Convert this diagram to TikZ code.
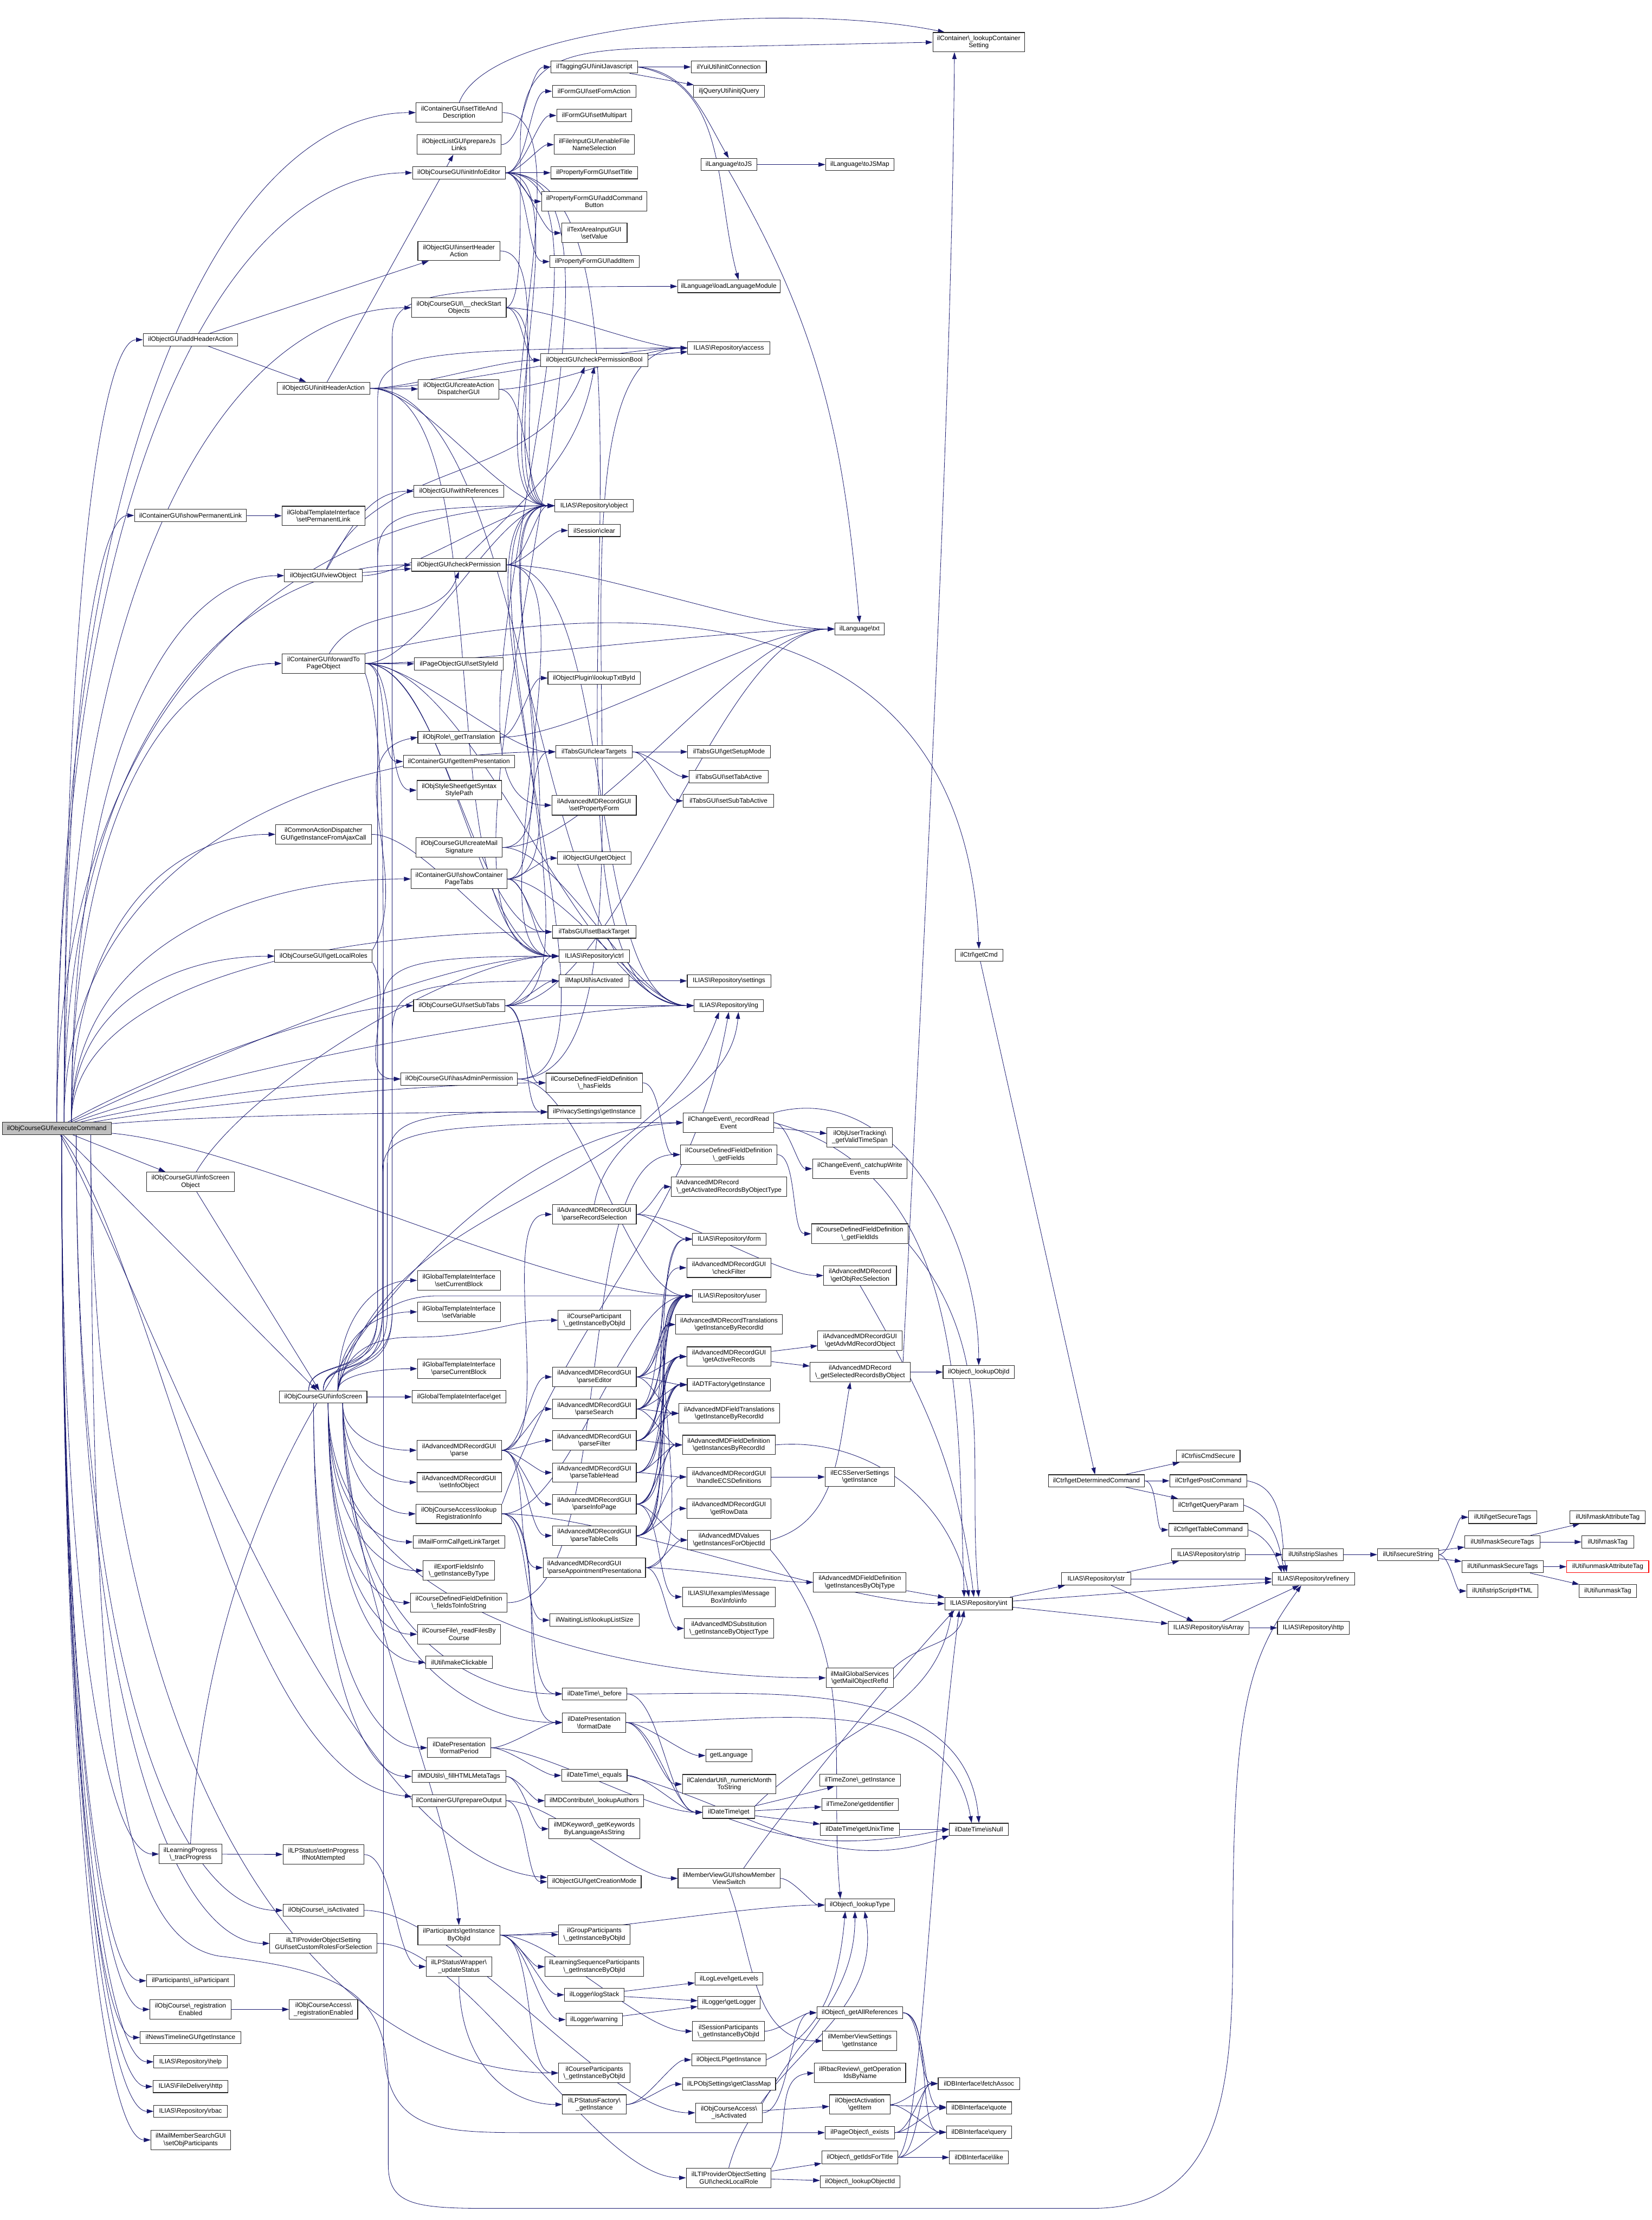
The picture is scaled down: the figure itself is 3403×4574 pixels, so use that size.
\documentclass[tikz,border=0pt]{standalone}
\usepackage{fontspec}
\setmainfont{Liberation Sans}
\usetikzlibrary{arrows.meta,calc}
\definecolor{edgec}{RGB}{25,25,112}
\newcommand\bsl{\textbackslash}
\pgfdeclarelayer{back}
\pgfdeclarelayer{edges}
\pgfsetlayers{back,edges,main}
\newcommand\ND[6]{\node[nd,minimum width=0.25pt*#4,minimum height=0.25pt*#5] (#1) at (#2,-#3) {#6};}
\newcommand\ESt[2]{\draw[e] (#1) -- (#2);}
\newcommand\ETo[3][]{\draw[e] (#2) to[out=0,in=180,looseness=0.6,#1] (#3);}
\newcommand\ECu[2]{\draw[e] (#1) .. controls ($(#1)!0.7!(#1|-#2.west)$) and ($(#2.west)!0.5!(#1|-#2.west)$) .. (#2.west);}
\newcommand\EVc[3]{\draw[e] (#1) .. controls ($(#1)+(0,70)$) and ($(#2|-#1)+(0,20)$) .. ($(#2|-#1)+(0,160)$) -- ($(#2|-#3.west)+(0,-110)$) .. controls ($(#2|-#3.west)+(0,-20)$) and ($(#2|-#3.west)+(40,0)$) .. (#3.west);}
\begin{document}
\begin{tikzpicture}[x=0.25pt,y=0.25pt,
 nd/.style={draw=black!85,fill=white,line width=0.3pt,inner sep=0pt,align=center,font=\fontsize{3.325}{3.75}\selectfont},
 e/.style={draw=edgec,line width=0.23pt,-{Triangle[length=3.5pt,width=2.25pt]}}]
\begin{pgfonlayer}{back}
\fill[white] (0,0) rectangle (3403,-4574);
\end{pgfonlayer}
\useasboundingbox (0,0) rectangle (3403,-4574);
% ---------- nodes ----------
\node[nd,fill=black!25,minimum width=56pt,minimum height=6.25pt] (ecmd) at (117,-2325) {ilObjCourseGUI\bsl executeCommand};
% column A
\ND{addHA}{392.5}{700}{195}{25}{ilObjectGUI\bsl addHeaderAction}
\ND{showPL}{392.5}{1062}{231}{25}{ilContainerGUI\bsl showPermanentLink}
\ND{infoSO}{392.5}{2435}{181}{40}{ilObjCourseGUI\bsl infoScreen\\Object}
\ND{tracP}{392.5}{3820}{129}{40}{ilLearningProgress\\\bsl\_tracProgress}
\ND{isPart}{392.5}{4081}{181}{25}{ilParticipants\bsl\_isParticipant}
\ND{regEn}{392.5}{4140}{167}{40}{ilObjCourse\bsl\_registration\\Enabled}
\ND{newsTL}{392.5}{4198}{207}{25}{ilNewsTimelineGUI\bsl getInstance}
\ND{help}{392.5}{4248}{151}{25}{ILIAS\bsl Repository\bsl help}
\ND{fdhttp}{392.5}{4299}{155}{25}{ILIAS\bsl FileDelivery\bsl http}
\ND{rbac}{392.5}{4350}{151}{25}{ILIAS\bsl Repository\bsl rbac}
\ND{mailMS}{393}{4409}{164}{40}{ilMailMemberSearchGUI\\\bsl setObjParticipants}
% column B
\ND{initHA}{666.5}{800}{191}{25}{ilObjectGUI\bsl initHeaderAction}
\ND{setPL}{666.5}{1063}{171}{40}{ilGlobalTemplateInterface\\\bsl setPermanentLink}
\ND{viewObj}{666}{1186}{160}{25}{ilObjectGUI\bsl viewObject}
\ND{fwdPO}{666.5}{1367}{171}{40}{ilContainerGUI\bsl forwardTo\\PageObject}
\ND{cadAjax}{666.5}{1719}{197}{40}{ilCommonActionDispatcher\\GUI\bsl getInstanceFromAjaxCall}
\ND{getLR}{666.5}{1970}{201}{25}{ilObjCourseGUI\bsl getLocalRoles}
\ND{infoS}{666}{2878}{180}{25}{ilObjCourseGUI\bsl infoScreen}
\ND{setIPNA}{666.5}{3821}{167}{40}{ilLPStatus\bsl setInProgress\\IfNotAttempted}
\ND{isActC}{666.5}{3936}{167}{25}{ilObjCourse\bsl\_isActivated}
\ND{setCR}{666.5}{4004}{221}{40}{ilLTIProviderObjectSetting\\GUI\bsl setCustomRolesForSelection}
\ND{regEnA}{666.5}{4140}{141}{40}{ilObjCourseAccess\bsl\\\_registrationEnabled}
% column C
\ND{setTD}{946}{232}{178}{40}{ilContainerGUI\bsl setTitleAnd\\Description}
\ND{prepJS}{945.5}{298}{173}{40}{ilObjectListGUI\bsl prepareJs\\Links}
\ND{initIE}{945.5}{356}{191}{26}{ilObjCourseGUI\bsl initInfoEditor}
\ND{insHA}{945.5}{517}{169}{40}{ilObjectGUI\bsl insertHeader\\Action}
\ND{chkSO}{945.5}{634}{195}{40}{ilObjCourseGUI\bsl\_\_checkStart\\Objects}
\ND{createAD}{945}{802}{166}{40}{ilObjectGUI\bsl createAction\\DispatcherGUI}
\ND{withRef}{945.5}{1012}{185}{25}{ilObjectGUI\bsl withReferences}
\ND{chkPerm}{945.5}{1164}{195}{26}{ilObjectGUI\bsl checkPermission}
\ND{setSI}{945.5}{1368}{183}{25}{ilPageObjectGUI\bsl setStyleId}
\ND{getTr}{945.5}{1519}{169}{25}{ilObjRole\bsl\_getTranslation}
\ND{getIP}{945.5}{1569}{229}{26}{ilContainerGUI\bsl getItemPresentation}
\ND{synSP}{946}{1628}{174}{40}{ilObjStyleSheet\bsl getSyntax\\StylePath}
\ND{mailSig}{946}{1746}{178}{40}{ilObjCourseGUI\bsl createMail\\Signature}
\ND{showCPT}{946}{1811}{198}{40}{ilContainerGUI\bsl showContainer\\PageTabs}
\ND{setST}{946}{2072}{188}{25}{ilObjCourseGUI\bsl setSubTabs}
\ND{hasAP}{946}{2223}{240}{26}{ilObjCourseGUI\bsl hasAdminPermission}
\ND{gtSCB}{945.5}{2638}{171}{40}{ilGlobalTemplateInterface\\\bsl setCurrentBlock}
\ND{gtSV}{945.5}{2703}{171}{40}{ilGlobalTemplateInterface\\\bsl setVariable}
\ND{gtPCB}{945.5}{2820}{171}{40}{ilGlobalTemplateInterface\\\bsl parseCurrentBlock}
\ND{gtGet}{945.5}{2878}{193}{26}{ilGlobalTemplateInterface\bsl get}
\ND{amdParse}{946}{2988}{174}{40}{ilAdvancedMDRecordGUI\\\bsl parse}
\ND{amdSIO}{946}{3054}{174}{40}{ilAdvancedMDRecordGUI\\\bsl setInfoObject}
\ND{lookupRI}{945.5}{3119}{177}{40}{ilObjCourseAccess\bsl lookup\\RegistrationInfo}
\ND{mailLT}{945.5}{3177}{189}{26}{ilMailFormCall\bsl getLinkTarget}
\ND{exportFI}{945.5}{3236}{147}{40}{ilExportFieldsInfo\\\bsl\_getInstanceByType}
\ND{cdfInfo}{945.5}{3302}{199}{40}{ilCourseDefinedFieldDefinition\\\bsl\_fieldsToInfoString}
\ND{cfRead}{945.5}{3367}{171}{40}{ilCourseFile\bsl\_readFilesBy\\Course}
\ND{mkClick}{946}{3425}{138}{26}{ilUtil\bsl makeClickable}
\ND{fmtPeriod}{946}{3601}{130}{40}{ilDatePresentation\\\bsl formatPeriod}
\ND{mdFill}{945.5}{3660}{193}{25}{ilMDUtils\bsl\_fillHTMLMetaTags}
\ND{prepOut}{945.5}{3710}{193}{25}{ilContainerGUI\bsl prepareOutput}
\ND{partGI}{945.5}{3987}{169}{40}{ilParticipants\bsl getInstance\\ByObjId}
\ND{lpsUpd}{945.5}{4052}{135}{40}{ilLPStatusWrapper\bsl\\\_updateStatus}
% column D
\ND{tagJS}{1224.5}{138}{179}{25}{ilTaggingGUI\bsl initJavascript}
\ND{setFA}{1224}{188}{172}{25}{ilFormGUI\bsl setFormAction}
\ND{setMP}{1224.5}{238}{155}{25}{ilFormGUI\bsl setMultipart}
\ND{fileNS}{1224.5}{298}{165}{40}{ilFileInputGUI\bsl enableFile\\NameSelection}
\ND{pfSetT}{1224.5}{356}{179}{25}{ilPropertyFormGUI\bsl setTitle}
\ND{pfACB}{1224.5}{415}{217}{40}{ilPropertyFormGUI\bsl addCommand\\Button}
\ND{taSV}{1224.5}{480}{135}{40}{ilTextAreaInputGUI\\\bsl setValue}
\ND{pfAI}{1225}{539}{184}{25}{ilPropertyFormGUI\bsl addItem}
\ND{chkPB}{1224.5}{742}{221}{26}{ilObjectGUI\bsl checkPermissionBool}
\ND{repObj}{1224}{1042}{162}{26}{ILIAS\bsl Repository\bsl object}
\ND{sessClr}{1224.5}{1093}{107}{25}{ilSession\bsl clear}
\ND{plugTxt}{1224}{1397}{190}{26}{ilObjectPlugin\bsl lookupTxtById}
\ND{tabsCT}{1224}{1549}{158}{25}{ilTabsGUI\bsl clearTargets}
\ND{amdSPF}{1224}{1659}{174}{41}{ilAdvancedMDRecordGUI\\\bsl setPropertyForm}
\ND{getObj}{1224.5}{1768}{151}{26}{ilObjectGUI\bsl getObject}
\ND{tabsSBT}{1224}{1920}{172}{26}{ilTabsGUI\bsl setBackTarget}
\ND{repCtrl}{1224.5}{1970}{145}{26}{ILIAS\bsl Repository\bsl ctrl}
\ND{mapAct}{1224}{2021}{144}{26}{ilMapUtil\bsl isActivated}
\ND{cdfHas}{1224.5}{2231}{199}{40}{ilCourseDefinedFieldDefinition\\\bsl\_hasFields}
\ND{privGI}{1224.5}{2291}{191}{26}{ilPrivacySettings\bsl getInstance}
\ND{amdPRS}{1224.5}{2502}{173}{40}{ilAdvancedMDRecordGUI\\\bsl parseRecordSelection}
\ND{cpGI}{1224.5}{2720}{149}{40}{ilCourseParticipant\\\bsl\_getInstanceByObjId}
\ND{amdPE}{1224.5}{2837}{173}{40}{ilAdvancedMDRecordGUI\\\bsl parseEditor}
\ND{amdPS}{1224.5}{2903}{173}{40}{ilAdvancedMDRecordGUI\\\bsl parseSearch}
\ND{amdPF}{1224.5}{2968}{173}{40}{ilAdvancedMDRecordGUI\\\bsl parseFilter}
\ND{amdPTH}{1224.5}{3034}{173}{40}{ilAdvancedMDRecordGUI\\\bsl parseTableHead}
\ND{amdPIP}{1224.5}{3099}{173}{40}{ilAdvancedMDRecordGUI\\\bsl parseInfoPage}
\ND{amdPTC}{1224.5}{3164}{173}{40}{ilAdvancedMDRecordGUI\\\bsl parseTableCells}
\node[nd,align=left,minimum width=52.75pt,minimum height=10pt] (amdPAP) at (1224.5,-3230) {ilAdvancedMDRecordGUI\\\bsl parseAppointmentPresentationa};
\ND{wlSize}{1225}{3338}{184}{26}{ilWaitingList\bsl lookupListSize}
\ND{dtBefore}{1225}{3490}{132}{25}{ilDateTime\bsl\_before}
\ND{fmtDate}{1224}{3549}{130}{40}{ilDatePresentation\\\bsl formatDate}
\ND{dtEq}{1224.5}{3658}{135}{25}{ilDateTime\bsl\_equals}
\ND{mdAuth}{1224.5}{3710}{203}{25}{ilMDContribute\bsl\_lookupAuthors}
\ND{mdKw}{1224.5}{3768}{187}{41}{ilMDKeyword\bsl\_getKeywords\\ByLanguageAsString}
\ND{getCM}{1224.5}{3877}{193}{25}{ilObjectGUI\bsl getCreationMode}
\ND{grpGI}{1224.5}{3986}{147}{40}{ilGroupParticipants\\\bsl\_getInstanceByObjId}
\ND{lsGI}{1224.5}{4052}{203}{40}{ilLearningSequenceParticipants\\\bsl\_getInstanceByObjId}
\ND{logStack}{1224.5}{4110}{123}{26}{ilLogger\bsl logStack}
\ND{logWarn}{1224}{4161}{116}{26}{ilLogger\bsl warning}
\ND{crsPGI}{1224.5}{4271}{147}{40}{ilCourseParticipants\\\bsl\_getInstanceByObjId}
\ND{lpsFact}{1224.5}{4336}{131}{40}{ilLPStatusFactory\bsl\\\_getInstance}
% column E
\ND{yui}{1501.5}{138}{155}{25}{ilYuiUtil\bsl initConnection}
\ND{jq}{1502}{188}{146}{25}{iljQueryUtil\bsl initjQuery}
\ND{toJS}{1501.5}{339}{115}{25}{ilLanguage\bsl toJS}
\ND{loadLM}{1501.5}{590}{211}{26}{ilLanguage\bsl loadLanguageModule}
\ND{repAcc}{1501.5}{717}{169}{26}{ILIAS\bsl Repository\bsl access}
\ND{tabsGSM}{1502}{1549}{170}{25}{ilTabsGUI\bsl getSetupMode}
\ND{tabsSTA}{1501.5}{1600}{163}{26}{ilTabsGUI\bsl setTabActive}
\ND{tabsSSTA}{1501}{1650}{186}{26}{ilTabsGUI\bsl setSubTabActive}
\ND{repSet}{1502}{2021}{172}{26}{ILIAS\bsl Repository\bsl settings}
\ND{repLng}{1501.5}{2072}{143}{25}{ILIAS\bsl Repository\bsl lng}
\ND{ceRRE}{1501}{2313}{186}{40}{ilChangeEvent\bsl\_recordRead\\Event}
\ND{cdfGF}{1501.5}{2379}{199}{40}{ilCourseDefinedFieldDefinition\\\bsl\_getFields}
\node[nd,align=left,minimum width=59.5pt,minimum height=10pt] (amdGAR) at (1502,-2445) {ilAdvancedMDRecord\\\bsl\_getActivatedRecordsByObjectType};
\ND{repForm}{1502.5}{2553}{151}{25}{ILIAS\bsl Repository\bsl form}
\ND{amdCF}{1502}{2612}{174}{40}{ilAdvancedMDRecordGUI\\\bsl checkFilter}
\ND{repUser}{1502.5}{2670}{151}{26}{ILIAS\bsl Repository\bsl user}
\ND{amdRT}{1502}{2729}{220}{40}{ilAdvancedMDRecordTranslations\\\bsl getInstanceByRecordId}
\ND{amdGActR}{1502}{2795}{174}{40}{ilAdvancedMDRecordGUI\\\bsl getActiveRecords}
\ND{adtF}{1501.5}{2853}{171}{25}{ilADTFactory\bsl getInstance}
\ND{amdFT}{1502.5}{2912}{207}{40}{ilAdvancedMDFieldTranslations\\\bsl getInstanceByRecordId}
\ND{amdFDR}{1501.5}{2977}{191}{40}{ilAdvancedMDFieldDefinition\\\bsl getInstancesByRecordId}
\ND{amdECS}{1502}{3043}{174}{40}{ilAdvancedMDRecordGUI\\\bsl handleECSDefinitions}
\ND{amdRow}{1502}{3108}{174}{40}{ilAdvancedMDRecordGUI\\\bsl getRowData}
\ND{amdVal}{1502}{3173}{170}{40}{ilAdvancedMDValues\\\bsl getInstancesForObjectId}
\ND{uiInfo}{1501.5}{3290}{191}{40}{ILIAS\bsl UI\bsl examples\bsl Message\\Box\bsl Info\bsl info}
\ND{amdSub}{1502}{3355}{184}{40}{ilAdvancedMDSubstitution\\\bsl\_getInstanceByObjectType}
\ND{getLang}{1501.5}{3617}{95}{25}{getLanguage}
\ND{calMon}{1502.5}{3676}{193}{40}{ilCalendarUtil\bsl\_numericMonth\\ToString}
\ND{dtGet}{1501.5}{3734}{107}{25}{ilDateTime\bsl get}
\ND{mvSwitch}{1502}{3870}{210}{40}{ilMemberViewGUI\bsl showMember\\ViewSwitch}
\ND{logLev}{1502}{4077}{140}{25}{ilLogLevel\bsl getLevels}
\ND{logGet}{1502}{4126}{128}{26}{ilLogger\bsl getLogger}
\ND{sessPGI}{1501}{4185}{148}{40}{ilSessionParticipants\\\bsl\_getInstanceByObjId}
\ND{olpGI}{1501.5}{4244}{153}{25}{ilObjectLP\bsl getInstance}
\ND{lpCM}{1502}{4294}{192}{26}{ilLPObjSettings\bsl getClassMap}
\ND{caIsAct}{1502}{4353}{138}{40}{ilObjCourseAccess\bsl\\\_isActivated}
\ND{ltiCLR}{1501.5}{4487}{175}{40}{ilLTIProviderObjectSetting\\GUI\bsl checkLocalRole}
% column F
\ND{toJSMap}{1771.5}{339}{141}{25}{ilLanguage\bsl toJSMap}
\ND{txt}{1771}{1296}{102}{25}{ilLanguage\bsl txt}
\ND{outTS}{1771.5}{2343}{135}{40}{ilObjUserTracking\bsl\\\_getValidTimeSpan}
\ND{ceCWE}{1771.5}{2408}{195}{40}{ilChangeEvent\bsl\_catchupWrite\\Events}
\ND{cdfGFI}{1771.5}{2542}{199}{41}{ilCourseDefinedFieldDefinition\\\bsl\_getFieldIds}
\ND{amdORS}{1772}{2628}{150}{40}{ilAdvancedMDRecord\\\bsl getObjRecSelection}
\ND{amdAMO}{1772}{2762}{174}{41}{ilAdvancedMDRecordGUI\\\bsl getAdvMdRecordObject}
\ND{amdSRO}{1772}{2827}{206}{40}{ilAdvancedMDRecord\\\bsl\_getSelectedRecordsByObject}
\ND{ecsGI}{1771.5}{3043}{143}{40}{ilECSServerSettings\\\bsl getInstance}
\ND{amdFDOT}{1771.5}{3260}{191}{40}{ilAdvancedMDFieldDefinition\\\bsl getInstancesByObjType}
\ND{mailRef}{1771.5}{3457}{139}{40}{ilMailGlobalServices\\\bsl getMailObjectRefId}
\ND{tzGI}{1772}{3668}{166}{25}{ilTimeZone\bsl\_getInstance}
\ND{tzId}{1772}{3718}{158}{25}{ilTimeZone\bsl getIdentifier}
\ND{dtUnix}{1771.5}{3769}{163}{25}{ilDateTime\bsl getUnixTime}
\ND{lookType}{1771.5}{3925}{143}{25}{ilObject\bsl\_lookupType}
\ND{getAllRef}{1771.5}{4147}{177}{25}{ilObject\bsl\_getAllReferences}
\ND{mvsGI}{1771.5}{4205}{153}{40}{ilMemberViewSettings\\\bsl getInstance}
\ND{rbacOp}{1772}{4271}{188}{40}{ilRbacReview\bsl\_getOperation\\IdsByName}
\ND{oaItem}{1771.5}{4336}{125}{40}{ilObjectActivation\\\bsl getItem}
\ND{poExists}{1771.5}{4394}{143}{25}{ilPageObject\bsl\_exists}
\ND{idsTitle}{1771.5}{4445}{157}{27}{ilObject\bsl\_getIdsForTitle}
\ND{lookObjIdB}{1772}{4495}{164}{25}{ilObject\bsl\_lookupObjectId}
% column G
\ND{lookCS}{2016.5}{87}{189}{40}{ilContainer\bsl\_lookupContainer\\Setting}
\ND{getCmd}{2017}{1968}{98}{25}{ilCtrl\bsl getCmd}
\ND{lookObjId}{2016.5}{2827}{147}{27}{ilObject\bsl\_lookupObjId}
\ND{repInt}{2016.5}{3304}{139}{26}{ILIAS\bsl Repository\bsl int}
\ND{dtNull}{2017}{3769}{122}{25}{ilDateTime\bsl isNull}
\ND{dbFetch}{2017}{4293}{168}{25}{ilDBInterface\bsl fetchAssoc}
\ND{dbQuote}{2017}{4343}{134}{25}{ilDBInterface\bsl quote}
\ND{dbQuery}{2017}{4393}{134}{26}{ilDBInterface\bsl query}
\ND{dbLike}{2017}{4445}{122}{27}{ilDBInterface\bsl like}
% columns H..M
\ND{getDC}{2259}{3051}{198}{25}{ilCtrl\bsl getDeterminedCommand}
\ND{repStr}{2258.5}{3253}{143}{26}{ILIAS\bsl Repository\bsl str}
\ND{isCmdSec}{2489.5}{3000}{131}{25}{ilCtrl\bsl isCmdSecure}
\ND{getPostCmd}{2489.5}{3051}{159}{25}{ilCtrl\bsl getPostCommand}
\ND{getQP}{2489.5}{3101}{145}{26}{ilCtrl\bsl getQueryParam}
\ND{getTC}{2489.5}{3152}{163}{26}{ilCtrl\bsl getTableCommand}
\ND{repStrip}{2490}{3203}{152}{25}{ILIAS\bsl Repository\bsl strip}
\ND{repIsArr}{2490}{3354}{166}{26}{ILIAS\bsl Repository\bsl isArray}
\ND{stripSl}{2705.5}{3203}{125}{25}{ilUtil\bsl stripSlashes}
\ND{refinery}{2706}{3253}{170}{26}{ILIAS\bsl Repository\bsl refinery}
\ND{repHttp}{2706}{3354}{148}{26}{ILIAS\bsl Repository\bsl http}
\ND{secStr}{2901}{3203}{126}{25}{ilUtil\bsl secureString}
\ND{getSecT}{3096}{3126}{140}{26}{ilUtil\bsl getSecureTags}
\ND{maskSecT}{3095.5}{3177}{155}{26}{ilUtil\bsl maskSecureTags}
\ND{unmaskSecT}{3096}{3228}{168}{25}{ilUtil\bsl unmaskSecureTags}
\ND{stripScr}{3095.5}{3278}{147}{26}{ilUtil\bsl stripScriptHTML}
\ND{maskAttr}{3312.5}{3126}{155}{26}{ilUtil\bsl maskAttributeTag}
\ND{maskTag}{3312.5}{3177}{107}{26}{ilUtil\bsl maskTag}
\node[nd,draw=red,minimum width=42.25pt,minimum height=6.25pt] (unmaskAttr) at (3312.5,-3228) {ilUtil\bsl unmaskAttributeTag};
\ND{unmaskTag}{3312.5}{3278}{119}{26}{ilUtil\bsl unmaskTag}
% helper coordinates
\coordinate (eN1) at ($(ecmd.north)+(0,0)$);
\coordinate (eN2) at ($(ecmd.north)+(15,0)$);
\coordinate (eN3) at ($(ecmd.north)+(30,0)$);
\coordinate (eS1) at ($(ecmd.south)+(10,0)$);
\coordinate (eS2) at ($(ecmd.south)+(40,0)$);
\coordinate (eS3) at ($(ecmd.south)+(70,0)$);
\coordinate (iN1) at ($(infoS.north)+(-30,0)$);
\coordinate (iN2) at ($(infoS.north)+(0,0)$);
\coordinate (iN3) at ($(infoS.north)+(30,0)$);
\coordinate (iS1) at ($(infoS.south)+(-20,0)$);
\coordinate (iS2) at ($(infoS.south)+(10,0)$);
\coordinate (iS3) at ($(infoS.south)+(40,0)$);
\coordinate (ch1) at (778,0);
\coordinate (ch2) at (788,0);
\coordinate (ch3) at (798,0);
\coordinate (ch4) at (808,0);
% ---------- edges ----------
\begin{pgfonlayer}{edges}
% executeCommand
\ECu{eN1}{setTD}
\ECu{eN1}{initIE}
\ECu{eN2}{addHA}
\ECu{eN2}{chkSO}
\ECu{eN2}{showPL}
\ECu{eN3}{viewObj}
\ECu{eN3}{fwdPO}
\ECu{eN3}{cadAjax}
\ECu{eN3}{getLR}
\ECu{eN3}{showCPT}
\ECu{eN2}{chkPerm}
\ECu{eN1}{repObj}
\ECu{eN2}{tabsCT}
\ECu{eN3}{tabsSBT}
\ETo[out=30]{ecmd}{setST}
\ETo[out=25]{ecmd}{repCtrl}
\ETo[out=20]{ecmd}{repLng}
\ETo[out=15]{ecmd}{hasAP}
\ETo[out=10]{ecmd}{cdfHas}
\ETo[out=5]{ecmd}{privGI}
\ESt{ecmd}{infoSO}
\ESt{ecmd}{infoS}
\ETo[out=-5]{ecmd}{repUser}
\ETo[out=-55,in=175]{ecmd}{prepOut}
\ETo[out=-62,in=175]{ecmd}{getCM}
\ECu{eS1}{tracP}
\ECu{eS1}{isPart}
\ECu{eS1}{regEn}
\ECu{eS1}{newsTL}
\ECu{eS1}{help}
\ECu{eS1}{fdhttp}
\ECu{eS1}{rbac}
\ECu{eS1}{mailMS}
\ECu{eS2}{isActC}
\ECu{eS2}{setCR}
\ECu{eS3}{crsPGI}
\draw[e] (eS3) .. controls (190,-3500) and (230,-3990) .. (450,-4030) .. controls (700,-4060) and (800,-4100) .. (800,-4300) -- (800,-4460) .. controls (800,-4540) and (850,-4550) .. (1000,-4550) -- (2250,-4550) .. controls (2520,-4550) and (2540,-4300) .. (2540,-4000) .. controls (2540,-3520) and (2570,-3420) .. ($(refinery.south)+(-25,0)$);
% header actions
\ESt{addHA}{insHA}
\ESt{addHA}{initHA}
\ESt{initHA}{createAD}
\ESt{initHA}{prepJS}
\ETo{initHA}{chkPB}
\ETo{initHA}{repAcc}
\ETo{initHA}{repObj}
\ETo{initHA}{repCtrl}
\ETo{initHA}{repLng}
\ESt{showPL}{setPL}
\ETo{prepJS}{tagJS}
\draw[e] (setTD.north) .. controls (1010,-40) and (1650,-5) .. ($(lookCS.north west)+(25,0)$);
\ETo{setTD}{repObj}
\draw[e] (chkSO.east) .. controls (1075,-620) and (1072,-500) .. (1072,-300) .. controls (1072,-120) and (1150,-100) .. (1400,-98) -- (lookCS.west);
% info editor
\ETo{initIE}{setFA}
\ETo{initIE}{setMP}
\ETo{initIE}{fileNS}
\ESt{initIE}{pfSetT}
\ETo{initIE}{pfACB}
\ETo{initIE}{taSV}
\ETo{initIE}{pfAI}
\ETo{initIE}{repObj}
\ETo{initIE}{repCtrl}
\ETo{initIE}{repLng}
\ETo{initIE}{amdSPF}
\ETo{insHA}{repObj}
\ETo{chkSO}{repAcc}
\ETo{chkSO}{chkPB}
\ETo{chkSO}{repObj}
\ETo{createAD}{repAcc}
\ETo{createAD}{repObj}
\ESt{chkPB}{repAcc}
\draw[e] (chkPerm) to[out=45,in=-100] (chkPB.south);
\ETo{chkPerm}{sessClr}
\ETo{chkPerm}{repObj}
\ETo{chkPerm}{repCtrl}
\ETo{chkPerm}{repLng}
\ETo{chkPerm}{txt}
\ESt{viewObj}{chkPerm}
\draw[e] (viewObj) to[out=60,in=180] (withRef);
\ETo{viewObj}{repObj}
\draw[e] (viewObj) to[out=65,in=-110] ($(chkPB.south)+(-20,0)$);
% forwardToPageObject
\ESt{fwdPO}{setSI}
\draw[e] (fwdPO) to[out=60,in=-110] (chkPerm.south);
\ETo{fwdPO}{getIP}
\ETo{fwdPO}{synSP}
\ETo{fwdPO}{txt}
\draw[e] (fwdPO.north east) .. controls (1450,-1190) and (1990,-1300) .. (getCmd.north);
\ETo{fwdPO}{repCtrl}
\ETo{fwdPO}{repObj}
\ETo{fwdPO}{repLng}
\ETo{fwdPO}{tabsCT}
\ETo{fwdPO}{tabsSBT}
\draw[e] (fwdPO.south east) .. controls (790,-1500) and (790,-1700) .. (790,-2200) -- (790,-4200) .. controls (790,-4394) and (900,-4394) .. (1100,-4394) -- (poExists.west);
\ETo{getTr}{plugTxt}
\ETo{getTr}{txt}
\draw[e] (getLR.north east) to[out=60,in=190] (getTr.west);
\draw[e] (getLR.south east) to[out=-60,in=180] (hasAP.west);
\ETo{cadAjax}{repCtrl}
\ETo{mailSig}{txt}
\ETo{mailSig}{repObj}
\ETo{mailSig}{repLng}
\ETo{showCPT}{tabsCT}
\ETo{showCPT}{tabsSBT}
\ETo{showCPT}{getObj}
\ETo{showCPT}{repCtrl}
\ETo{showCPT}{repLng}
\ETo{showCPT}{repObj}
\ESt{setST}{repLng}
\ETo{setST}{mapAct}
\ETo{setST}{cdfHas}
\ETo{setST}{privGI}
\ETo{setST}{repCtrl}
\ETo{setST}{txt}
\ETo{setST}{repObj}
\ETo{hasAP}{repAcc}
\ETo{hasAP}{repObj}
\ETo{hasAP}{repUser}
\ESt{mapAct}{repSet}
\ESt{tabsCT}{tabsGSM}
\ETo{tabsCT}{tabsSTA}
\ETo{tabsCT}{tabsSSTA}
% tagging / language
\ESt{tagJS}{yui}
\ESt{tagJS}{jq}
\draw[e] (tagJS.east) to[out=-5,in=120] (toJS.north);
\draw[e] (tagJS.east) to[out=-10,in=105] ($(loadLM.north)+(20,0)$);
\ESt{toJS}{toJSMap}
\draw[e] (toJS.south) to[out=-60,in=95] (txt.north);
% ctrl / util chain
\draw[e] (getCmd) -- (getDC);
\ESt{getDC}{isCmdSec}
\ESt{getDC}{getPostCmd}
\ESt{getDC}{getQP}
\ETo{getDC}{getTC}
\draw[e] (getPostCmd.east) to[out=-10,in=100] ($(refinery.north)+(-55,0)$);
\draw[e] (getQP.east) to[out=-20,in=100] ($(refinery.north)+(-60,0)$);
\draw[e] (getTC.east) to[out=-20,in=110] ($(refinery.north)+(-65,0)$);
\ESt{repStrip}{stripSl}
\ESt{stripSl}{secStr}
\ETo{secStr}{getSecT}
\ESt{secStr}{maskSecT}
\ESt{secStr}{unmaskSecT}
\ETo{secStr}{stripScr}
\ESt{maskSecT}{maskAttr}
\ESt{maskSecT}{maskTag}
\ESt{unmaskSecT}{unmaskAttr}
\ESt{unmaskSecT}{unmaskTag}
\ESt{repStr}{repStrip}
\ESt{repStr}{refinery}
\ESt{repStr}{repIsArr}
\ESt{repIsArr}{refinery}
\ESt{repIsArr}{repHttp}
\ESt{repInt}{repStr}
\ESt{repInt}{refinery}
\ESt{repInt}{repIsArr}
% infoScreen
\ESt{infoSO}{infoS}
\ETo[out=60]{infoSO}{repCtrl}
\ECu{iN3}{gtSCB}
\ECu{iN3}{gtSV}
\ECu{iN3}{gtPCB}
\ESt{infoS}{gtGet}
\ECu{iS3}{amdParse}
\ECu{iS3}{amdSIO}
\ECu{iS3}{lookupRI}
\ECu{iS2}{mailLT}
\ECu{iS2}{exportFI}
\ECu{iS2}{cdfInfo}
\ECu{iS2}{cfRead}
\ECu{iS2}{mkClick}
\ECu{iS1}{fmtPeriod}
\ECu{iS1}{mdFill}
\draw[e] (iS3) .. controls (720,-3300) and (930,-3700) .. (partGI.north);
\ECu{iS3}{dtBefore}
\ECu{iS3}{fmtDate}
\ECu{iS2}{mailRef}
\EVc{iN1}{ch1}{repObj}
\EVc{iN1}{ch2}{repCtrl}
\EVc{iN2}{ch1}{repAcc}
\EVc{iN2}{ch3}{privGI}
\EVc{iN3}{ch4}{mapAct}
\EVc{iN2}{ch4}{loadLM}
\EVc{iN3}{ch2}{ceRRE}
\draw[e] (iN3) to[out=75,in=-110] ($(repLng.south)+(-20,0)$);
\draw[e] (iN3) .. controls (710,-2760) and (780,-2670) .. (900,-2670) -- (repUser.west);
\draw[e] (iN3) .. controls (710,-2790) and (760,-2755) .. (850,-2755) .. controls (1000,-2755) and (1050,-2720) .. (cpGI.west);
% registration info
\ETo{lookupRI}{fmtDate}
\ETo{lookupRI}{dtBefore}
\ETo{lookupRI}{wlSize}
\ETo{lookupRI}{repUser}
\ETo{lookupRI}{repInt}
\draw[e] (lookupRI.north east) to[out=70,in=-100] (repLng.south);
% advanced metadata
\ETo{amdParse}{amdPRS}
\ETo{amdParse}{amdPE}
\ETo{amdParse}{amdPS}
\ETo{amdParse}{amdPF}
\ETo{amdParse}{amdPTH}
\ETo{amdParse}{amdPIP}
\ETo{amdParse}{amdPTC}
\ETo{amdParse}{amdPAP}
\ETo{amdPRS}{amdGAR}
\ETo{amdPRS}{repForm}
\ETo{amdPRS}{amdORS}
\draw[e] (amdPRS.north) to[out=80,in=-95] ($(repLng.south)+(20,0)$);
\ETo{amdPE}{amdRT}
\ETo{amdPE}{amdGActR}
\ETo{amdPE}{adtF}
\ETo{amdPE}{amdFT}
\ETo{amdPE}{repUser}
\ETo{amdPE}{repForm}
\ETo{amdPS}{amdRT}
\ETo{amdPS}{amdGActR}
\ETo{amdPS}{adtF}
\ETo{amdPS}{amdFT}
\ETo{amdPS}{amdFDR}
\ETo{amdPS}{repUser}
\ETo{amdPS}{repForm}
\ETo{amdPF}{amdGActR}
\ETo{amdPF}{adtF}
\ETo{amdPF}{amdFT}
\ETo{amdPF}{amdFDR}
\ETo{amdPF}{repUser}
\ETo{amdPF}{amdCF}
\ETo{amdPTH}{amdGActR}
\ETo{amdPTH}{adtF}
\ETo{amdPTH}{amdFDR}
\ETo{amdPTH}{amdECS}
\ETo{amdPTH}{repUser}
\ETo{amdPIP}{amdGActR}
\ETo{amdPIP}{adtF}
\ETo{amdPIP}{amdFDR}
\ETo{amdPIP}{amdVal}
\ETo{amdPIP}{uiInfo}
\ETo{amdPIP}{repUser}
\ETo{amdPTC}{amdGActR}
\ETo{amdPTC}{adtF}
\ETo{amdPTC}{amdFDR}
\ETo{amdPTC}{amdRow}
\ETo{amdPTC}{amdECS}
\ETo{amdPTC}{repUser}
\ETo{amdPAP}{amdVal}
\ETo{amdPAP}{amdFDOT}
\ETo{amdPAP}{amdSub}
\ETo{amdPAP}{repUser}
\ESt{amdGActR}{amdAMO}
\ESt{amdGActR}{amdSRO}
\ESt{amdSRO}{lookObjId}
\draw[e] ($(amdSRO.north east)+(-15,0)$) .. controls (1900,-2000) and (1960,-900) .. ($(lookCS.south)+(-50,0)$);
\ESt{amdECS}{ecsGI}
\draw[e] (amdVal.east) to[out=15,in=-100] ($(amdSRO.south)+(-20,0)$);
\draw[e] (amdVal.south east) to[out=-50,in=95] ($(lookType.north)+(-40,0)$);
\draw[e] (amdFDR.east) to[out=5,in=100] ($(repInt.north)+(-20,0)$);
\ESt{amdFDOT}{repInt}
\draw[e] (amdORS.south) to[out=-60,in=97] ($(repInt.north)+(-10,0)$);
% course defined fields, change events
\ETo{cdfHas}{cdfGF}
\ETo{cdfInfo}{cdfGF}
\ETo{cdfGF}{cdfGFI}
\draw[e] (cdfGFI.south east) to[out=-50,in=95] (repInt.north);
\ESt{ceRRE}{outTS}
\ETo{ceRRE}{ceCWE}
\draw[e] (ceRRE.east) to[out=-15,in=92] ($(repInt.north)+(-30,0)$);
\draw[e] (ceRRE.north east) to[out=15,in=90] (lookObjId.north);
% learning progress
\draw[e] (tracP.north) .. controls (440,-2900) and (1000,-2330) .. (ceRRE.west);
\ESt{tracP}{setIPNA}
\ETo{setIPNA}{lpsUpd}
\ECu{lpsUpd.south}{lpsFact}
\ETo{lpsFact}{olpGI}
\ETo{lpsFact}{lpCM}
\draw[e] (olpGI.east) to[out=25,in=-95] ($(lookType.south)+(-30,0)$);
\ETo{isActC}{caIsAct}
\ESt{caIsAct}{oaItem}
\ETo{caIsAct}{getAllRef}
\draw[e] (caIsAct.north east) to[out=60,in=-90] ($(lookType.south)+(-10,0)$);
\ESt{regEn}{regEnA}
% LTI
\ETo{setCR}{ltiCLR}
\ESt{ltiCLR}{idsTitle}
\ESt{ltiCLR}{lookObjIdB}
\draw[e] (ltiCLR.north) to[out=75,in=-80] ($(lookType.south)+(10,0)$);
\draw[e] (ltiCLR.north east) to[out=60,in=185] (rbacOp.west);
\ESt{idsTitle}{dbLike}
\ETo{idsTitle}{dbQuery}
\ETo{idsTitle}{dbFetch}
\draw[e] (idsTitle.east) .. controls (1900,-4400) and (1915,-3800) .. ($(repInt.south)+(-40,0)$);
\ETo{getAllRef}{dbFetch}
\ETo{getAllRef}{dbQuote}
\ETo{getAllRef}{dbQuery}
\ETo{oaItem}{dbFetch}
\ESt{oaItem}{dbQuote}
\ETo{oaItem}{dbQuery}
\ESt{poExists}{dbQuery}
\ETo{poExists}{dbQuote}
\ETo{poExists}{dbFetch}
% member view, participants
\draw[e] (mvSwitch.south) to[out=-70,in=180] (mvsGI.west);
\ETo{mvSwitch}{lookType}
\draw[e] ($(mvSwitch.north)+(30,0)$) .. controls (1600,-3750) and (1800,-3500) .. ($(repInt.south)+(-50,0)$);
\ETo{prepOut}{mvSwitch}
\ETo{prepOut}{getCM}
\ETo{partGI}{grpGI}
\ETo{partGI}{lsGI}
\ETo{partGI}{crsPGI}
\ETo{partGI}{sessPGI}
\ETo{partGI}{logStack}
\ETo{partGI}{logWarn}
\ETo{partGI}{lookType}
\ETo{sessPGI}{getAllRef}
\ESt{logStack}{logLev}
\ESt{logStack}{logGet}
\ESt{logWarn}{logGet}
\ETo{mdFill}{mdAuth}
\ETo{mdFill}{mdKw}
% dates
\ETo{fmtPeriod}{fmtDate}
\ETo{fmtPeriod}{dtEq}
\ETo{fmtPeriod}{dtGet}
\ETo{fmtDate}{getLang}
\ETo{fmtDate}{calMon}
\ETo{fmtDate}{dtGet}
\draw[e] (fmtDate.east) to[out=0,in=100] ($(dtNull.north)+(-15,0)$);
\ETo{dtBefore}{dtGet}
\draw[e] (dtBefore.east) to[out=0,in=95] (dtNull.north);
\ETo{dtEq}{dtGet}
\draw[e] (dtEq.east) to[out=-15,in=200] (dtNull.south west);
\ESt{dtGet}{tzGI}
\ESt{dtGet}{tzId}
\ESt{dtGet}{dtUnix}
\draw[e] (dtGet.south) to[out=-20,in=190] (dtNull.west);
\draw[e] (dtGet.north east) to[out=45,in=-100] ($(repInt.south)+(-55,0)$);
\ESt{dtUnix}{dtNull}
\draw[e] (mailRef.north east) to[out=45,in=-100] ($(repInt.south)+(-30,0)$);
\end{pgfonlayer}
\end{tikzpicture}
\end{document}
